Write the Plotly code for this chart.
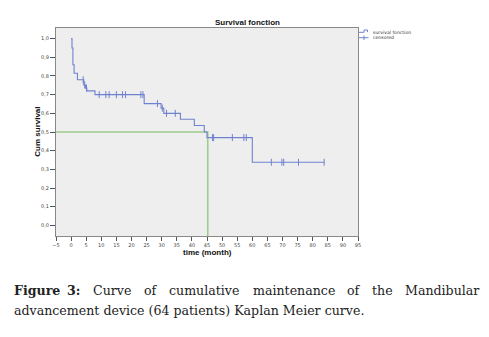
import plotly.graph_objects as go

# ---- data ----
step_times = [0, 0.3, 0.6, 1.0, 2.1, 4.2, 4.8, 5.2, 7.9, 24.2, 29.8, 30.7, 36.2, 40.8, 44.1, 45.0, 60.0, 83.8]
step_surv = [1.0, 0.95, 0.86, 0.815, 0.78, 0.752, 0.735, 0.72, 0.70, 0.652, 0.628, 0.60, 0.568, 0.535, 0.50, 0.47, 0.338, 0.338]

cens_times = [4.0, 4.5, 5.1, 9.3, 11.5, 12.6, 15.0, 17.0, 18.0, 23.1, 23.8,
              28.6, 30.2, 31.6, 34.5, 46.8, 47.2, 53.4, 57.2, 58.0,
              66.3, 69.8, 70.4, 75.3, 83.8]
cens_surv = [0.78, 0.752, 0.735, 0.70, 0.70, 0.70, 0.70, 0.70, 0.70, 0.70, 0.70,
             0.652, 0.628, 0.60, 0.60, 0.47, 0.47, 0.47, 0.47, 0.47,
             0.338, 0.338, 0.338, 0.338, 0.338]

median_time = 45.25
median_surv = 0.5

x_range = [-5, 95]
y_range = [-0.057, 1.057]

x_ticks = list(range(-5, 96, 5))
y_ticks = [i / 10 for i in range(0, 11)]
y_tick_labels = ["0,0", "0,1", "0,2", "0,3", "0,4", "0,5", "0,6", "0,7", "0,8", "0,9", "1,0"]

BLUE = "#6f82cf"
GREEN = "#9fcb8c"

fig = go.Figure()

# median reference line
fig.add_trace(go.Scatter(
    x=[x_range[0], median_time, median_time],
    y=[median_surv, median_surv, y_range[0]],
    mode="lines", line=dict(color=GREEN, width=1.6), hoverinfo="skip", showlegend=False))

fig.add_trace(go.Scatter(
    x=step_times, y=step_surv, mode="lines", line=dict(color=BLUE, width=1.1, shape="hv"),
    name="survival fonction", showlegend=False))

fig.add_trace(go.Scatter(
    x=cens_times, y=cens_surv, mode="markers",
    marker=dict(symbol="line-ns-open", size=5, color=BLUE, line=dict(color=BLUE, width=1)),
    name="censored", showlegend=False))

W, H = 489, 337
L, R, T, B = 56, 131, 28, 101
pw, ph = W - L - R, H - T - B


def px(xp):
    return (xp - L) / pw


def py(yp):
    return (H - B - yp) / ph


axis_font = dict(family="DejaVu Sans", size=5, color="#444")
title_font = dict(family="Liberation Sans", size=8, color="#111")

fig.update_layout(
    width=W, height=H,
    margin=dict(l=L, r=R, t=T, b=B),
    paper_bgcolor="white", plot_bgcolor="#eeeeee",
    showlegend=False,
    xaxis=dict(range=x_range, tickvals=x_ticks, tickformat="d", showgrid=False, zeroline=False,
               showline=True, mirror=True, linecolor="#888", linewidth=1,
               ticks="outside", ticklen=4, tickcolor="#555", tickfont=axis_font),
    yaxis=dict(range=y_range, tickvals=y_ticks, ticktext=y_tick_labels, showgrid=False, zeroline=False,
               showline=True, mirror=True, linecolor="#888", linewidth=1,
               ticks="outside", ticklen=5, tickcolor="#555", tickfont=axis_font),
)

annotations = []
annotations.append(dict(text="<b>Survival fonction</b>", xref="paper", yref="paper",
                        x=px(247), y=py(22.7), xanchor="center", yanchor="middle",
                        showarrow=False, font=title_font))
annotations.append(dict(text="<b>time (month)</b>", xref="paper", yref="paper",
                        x=px(207), y=py(252.7), xanchor="center", yanchor="middle",
                        showarrow=False, font=title_font))
annotations.append(dict(text="<b>Cum survival</b>", xref="paper", yref="paper", textangle=-90,
                        x=px(36.7), y=py(132), xanchor="center", yanchor="middle",
                        showarrow=False, font=title_font))

# legend (drawn manually)
leg_font = dict(family="DejaVu Sans", size=4.6, color="#333")
annotations.append(dict(text="survival fonction", xref="paper", yref="paper", x=px(370.5), y=py(32),
                        xanchor="left", yanchor="middle", showarrow=False, font=leg_font))
annotations.append(dict(text="censored", xref="paper", yref="paper", x=px(370.5), y=py(37.7),
                        xanchor="left", yanchor="middle", showarrow=False, font=leg_font))
shapes = [
    dict(type="path", xref="paper", yref="paper",
         path=f"M {px(359)} {py(32.3)} L {px(364)} {py(32.3)} L {px(364)} {py(30)} L {px(367.5)} {py(30)} L {px(367.5)} {py(32)}",
         line=dict(color=BLUE, width=1)),
    dict(type="line", xref="paper", yref="paper", x0=px(359), x1=px(368.5), y0=py(37.7), y1=py(37.7),
         line=dict(color=BLUE, width=1)),
    dict(type="line", xref="paper", yref="paper", x0=px(364), x1=px(364), y0=py(35.5), y1=py(40),
         line=dict(color=BLUE, width=1)),
]

# caption (justified first line placed word by word)
cap_font = dict(family="DejaVu Serif", size=12.6, color="#222")
line1 = [("<b>Figure</b>", 12, "left"), ("<b>3:</b>", 65, "left"), ("Curve", 90.7, "left"),
         ("of", 141.7, "left"), ("cumulative", 166.7, "left"), ("maintenance", 250.7, "left"),
         ("of", 345, "left"), ("the", 370, "left"), ("Mandibular", 481.7, "right")]
for w, xpix, anc in line1:
    annotations.append(dict(text=w, xref="paper", yref="paper", x=px(xpix), y=py(290.7),
                            xanchor=anc, yanchor="middle", showarrow=False, font=cap_font))
annotations.append(dict(text="advancement device (64 patients) Kaplan Meier curve.", xref="paper", yref="paper",
                        x=px(12), y=py(310.7), xanchor="left", yanchor="middle", showarrow=False, font=cap_font))

fig.update_layout(annotations=annotations, shapes=shapes)

fig.write_html("out.html", config={"displayModeBar": False},
               post_script="document.body.style.margin='0';")
